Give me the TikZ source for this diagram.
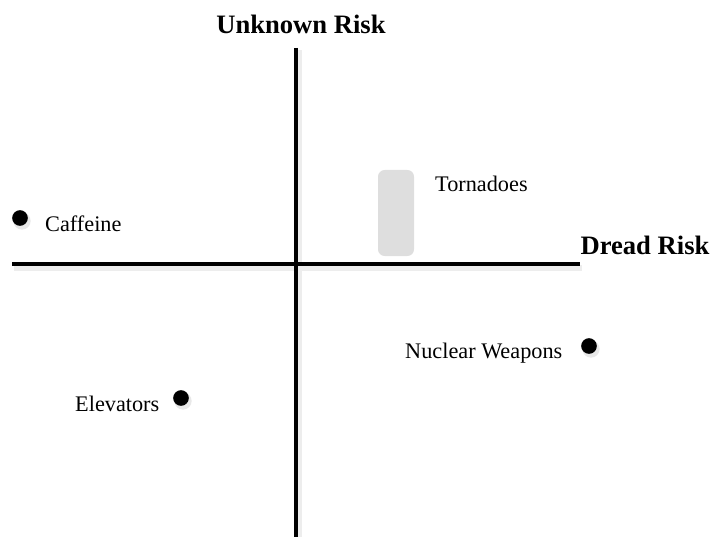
\documentclass[tikz,border=0pt]{standalone}
\usepackage{fontspec}
\setmainfont{Liberation Serif}
\usetikzlibrary{positioning}

\tikzset{
  axis/.style={line width=3pt, black},
  axisshadow/.style={line width=5pt, black!7},
  axislabel/.style={font=\fontsize{22.7}{26}\selectfont\bfseries, inner sep=0pt},
  risklabel/.style={font=\fontsize{19}{22}\selectfont, inner sep=0pt},
  riskdot/.style={circle, fill=black, inner sep=0pt, minimum size=0.47cm},
  dotshadow/.style={circle, fill=black!9, inner sep=0pt, minimum size=0.52cm},
  tornadobox/.style={rectangle, rounded corners=0.2cm, fill=black!13,
    inner sep=0pt, minimum width=1.08cm, minimum height=2.58cm}
}

\begin{document}
\begin{tikzpicture}[x=0.03cm, y=-0.03cm]
\useasboundingbox (0,0) rectangle (713,537);

% Axes
\coordinate (top) at (296,48);
\coordinate (bottom) at (296,537);
\coordinate (left) at (12,264);
\coordinate (right) at (580,264);

\draw[axisshadow] (14,268) -- (582,268);
\draw[axisshadow] (299,50) -- (299,537);
\draw[axis] (left) -- (right);
\draw[axis] (top) -- (bottom);

% Axis labels
\node[axislabel] (unknown) at (301,24) {Unknown Risk};
\node[axislabel] (dread) at (645,245) {Dread Risk};

% Tornadoes
\node[tornadobox] (tornado) at (396,213) {};
\node[risklabel, anchor=base west] (tornadolabel) at (435,191) {Tornadoes};

% Risks
\foreach \name/\x/\y in {caffeine/20/218, nuclear/589/346, elevators/181/398} {
  \node[dotshadow] at (\x+2,\y+3) {};
  \node[riskdot] (\name) at (\x,\y) {};
}

\node[risklabel, anchor=base west] (caffeinelabel) at (45,231) {Caffeine};
\node[risklabel, anchor=base west] (nuclearlabel) at (405,358) {Nuclear Weapons};
\node[risklabel, anchor=base west] (elevatorslabel) at (75,411) {Elevators};

\end{tikzpicture}
\end{document}
